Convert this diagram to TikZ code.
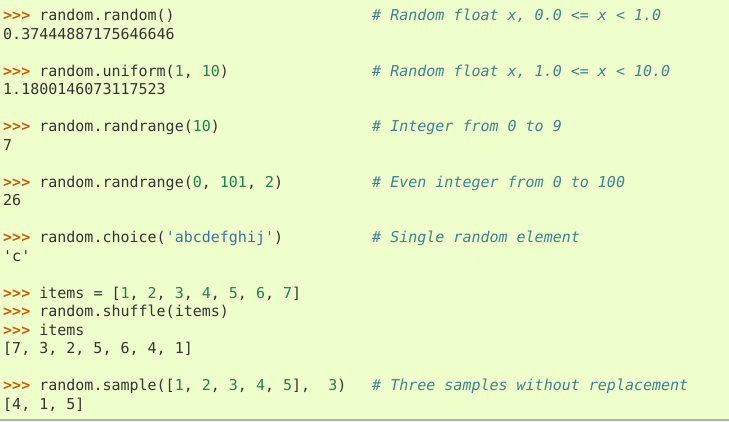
\documentclass[tikz,border=0pt]{standalone}
\usepackage{fontspec}
\newfontfamily\code{DejaVu Sans Mono}
\definecolor{bg}{HTML}{EEFFCC}
\definecolor{pp}{HTML}{C65D09}
\definecolor{pn}{HTML}{208050}
\definecolor{ps}{HTML}{4070A0}
\definecolor{pc}{HTML}{408090}
\definecolor{tx}{HTML}{333333}
\newcommand\pyp{{\color{pp}\bfseries>{}>{}>}~}
\newcommand\pyn[1]{{\color{pn}#1}}
\newcommand\pys[1]{{\color{ps}#1}}
\begin{document}
\begin{tikzpicture}[x=1pt,y=1pt,
  ln/.style={anchor=base west,inner sep=0pt,text=tx,font=\code\fontsize{15}{18.5}\selectfont},
  cmt/.style={ln,text=pc,font=\code\itshape\fontsize{15}{18.5}\selectfont}]
\fill[bg] (0,0) rectangle (729,422);
\useasboundingbox (0,0) rectangle (729,422);
\draw[gray!60,line width=1.5] (0,2) -- (729,2);
\node[ln] (l0) at (3,{401-18.5*0}) {\pyp random.random()};
\node[cmt] (c0) at (372,{401-18.5*0}) {\# Random float x, 0.0 <= x < 1.0};
\node[ln] (l1) at (3,{401-18.5*1}) {0.37444887175646646};
\node[ln] (l3) at (3,{401-18.5*3}) {\pyp random.uniform(\pyn{1}, \pyn{10})};
\node[cmt] (c3) at (372,{401-18.5*3}) {\# Random float x, 1.0 <= x < 10.0};
\node[ln] (l4) at (3,{401-18.5*4}) {1.1800146073117523};
\node[ln] (l6) at (3,{401-18.5*6}) {\pyp random.randrange(\pyn{10})};
\node[cmt] (c6) at (372,{401-18.5*6}) {\# Integer from 0 to 9};
\node[ln] (l7) at (3,{401-18.5*7}) {7};
\node[ln] (l9) at (3,{401-18.5*9}) {\pyp random.randrange(\pyn{0}, \pyn{101}, \pyn{2})};
\node[cmt] (c9) at (372,{401-18.5*9}) {\# Even integer from 0 to 100};
\node[ln] (l10) at (3,{401-18.5*10}) {26};
\node[ln] (l12) at (3,{401-18.5*12}) {\pyp random.choice(\pys{'abcdefghij'})};
\node[cmt] (c12) at (372,{401-18.5*12}) {\# Single random element};
\node[ln] (l13) at (3,{401-18.5*13}) {'c'};
\node[ln] (l15) at (3,{401-18.5*15}) {\pyp items = [\pyn{1}, \pyn{2}, \pyn{3}, \pyn{4}, \pyn{5}, \pyn{6}, \pyn{7}]};
\node[ln] (l16) at (3,{401-18.5*16}) {\pyp random.shuffle(items)};
\node[ln] (l17) at (3,{401-18.5*17}) {\pyp items};
\node[ln] (l18) at (3,{401-18.5*18}) {[7, 3, 2, 5, 6, 4, 1]};
\node[ln] (l20) at (3,{401-18.5*20}) {\pyp random.sample([\pyn{1}, \pyn{2}, \pyn{3}, \pyn{4}, \pyn{5}],~ \pyn{3})};
\node[cmt] (c20) at (372,{401-18.5*20}) {\# Three samples without replacement};
\node[ln] (l21) at (3,{401-18.5*21}) {[4, 1, 5]};
\end{tikzpicture}
\end{document}
